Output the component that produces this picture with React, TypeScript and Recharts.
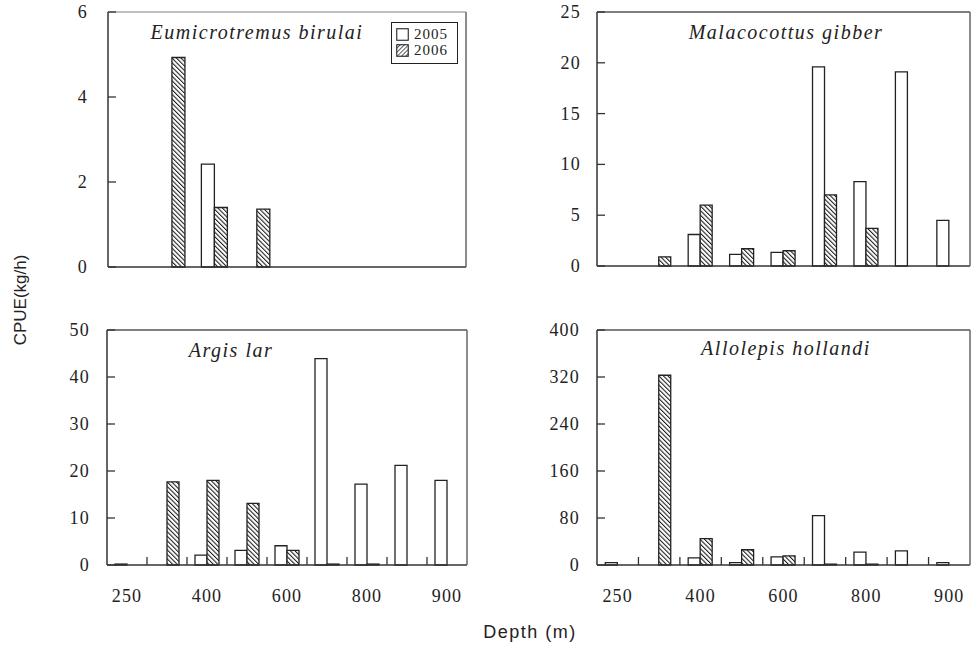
import React from "react";
import { BarChart, Bar, XAxis, YAxis, Legend } from "recharts";

const depths = ["250", "300", "400", "500", "600", "700", "800", "850", "900"];

const birulai2005 = [null, null, 2.42, null, null, null, null, null, null];
const birulai2006 = [null, 4.93, 1.4, 1.36, null, null, null, null, null];
const birulaiTicks = [0, 2, 4, 6];

const gibber2005 = [null, null, 3.1, 1.15, 1.35, 19.6, 8.3, 19.1, 4.5];
const gibber2006 = [null, 0.9, 6.0, 1.7, 1.5, 7.0, 3.7, null, null];
const gibberTicks = [0, 5, 10, 15, 20, 25];

const argis2005 = [0.2, null, 2.1, 3.1, 4.1, 43.9, 17.2, 21.2, 18.0];
const argis2006 = [null, 17.7, 18.0, 13.1, 3.1, 0.2, 0.2, null, null];
const argisTicks = [0, 10, 20, 30, 40, 50];

const hollandi2005 = [4, null, 12, 4, 14, 84, 22, 24, 4];
const hollandi2006 = [null, 323, 45, 26, 15.5, 1.5, 1.5, null, null];
const hollandiTicks = [0, 80, 160, 240, 320, 400];

const serif = "'Liberation Serif', 'Times New Roman', serif";
const sans = "'Liberation Sans', Arial, sans-serif";
const ink = "#222";

type Margin = { top: number; right: number; bottom: number; left: number };

type PanelProps = {
  id: string;
  left: number;
  top: number;
  width: number;
  height: number;
  plot: Margin; // where the plot box should end up inside the chart
  s2005: (number | null)[];
  s2006: (number | null)[];
  ticks: number[];
  labelGap: number;
  showX: boolean;
  padRight?: number;
  legend?: boolean;
  topBorder?: string;
};

const YTick = (props: any) => {
  const { x, y, payload, gap } = props;
  return (
    <g>
      <line x1={x} x2={x + 8} y1={y} y2={y} stroke="#333" strokeWidth={1.3} />
      <text
        x={x - gap}
        y={y}
        dy={6}
        textAnchor="end"
        fontFamily={serif}
        fontSize={18}
        letterSpacing={1.2}
        fill={ink}
      >
        {payload.value}
      </text>
    </g>
  );
};

const XTick = (props: any) => {
  const { x, y, payload, index, bw, showX } = props;
  if (!showX) return null;
  return (
    <g>
      {index < depths.length - 1 && (
        <line x1={x + bw / 2} x2={x + bw / 2} y1={y} y2={y - 8} stroke="#333" strokeWidth={1.3} />
      )}
      {index % 2 === 0 && (
        <text
          x={x}
          y={y + 37}
          textAnchor="middle"
          fontFamily={serif}
          fontSize={18}
          letterSpacing={1.2}
          fill={ink}
        >
          {payload.value}
        </text>
      )}
    </g>
  );
};

const LegendBox = (props: any) => (
  <div
    style={{
      width: 67,
      height: 42,
      boxSizing: "border-box",
      border: `1.5px solid ${ink}`,
      background: "#fff",
      padding: "3px 4px",
      fontFamily: serif,
      fontSize: 15,
      lineHeight: "16px",
      color: ink,
    }}
  >
    {(props.payload || []).map((p: any) => (
      <div key={p.value} style={{ display: "flex", alignItems: "center" }}>
        <svg width={13} height={13} style={{ marginRight: 5 }}>
          <defs>
            <pattern
              id="legendHatch"
              patternUnits="userSpaceOnUse"
              width={3}
              height={3}
              patternTransform="rotate(45)"
            >
              <rect width={3} height={3} fill="#fff" />
              <line x1={0} y1={0} x2={0} y2={3} stroke="#333" strokeWidth={1.6} />
            </pattern>
          </defs>
          <rect
            x={0.75}
            y={0.75}
            width={11.5}
            height={11.5}
            fill={p.value === "2006" ? "url(#legendHatch)" : "#fff"}
            stroke={ink}
            strokeWidth={1.1}
          />
        </svg>
        <span style={{ letterSpacing: 1 }}>{p.value}</span>
      </div>
    ))}
  </div>
);

const AX = 1; // thickness reserved for each axis

const Panel = ({
  id,
  left,
  top,
  width,
  height,
  plot,
  s2005,
  s2006,
  ticks,
  labelGap,
  showX,
  padRight = 0,
  legend,
  topBorder = "#555",
}: PanelProps) => {
  const data = depths.map((d, i) => ({ depth: d, y2005: s2005[i], y2006: s2006[i] }));
  const bw = (width - plot.left - plot.right + padRight) / depths.length;
  const hatch = `hatch-${id}`;
  const margin = {
    top: plot.top - AX,
    right: plot.right - AX,
    bottom: plot.bottom - AX,
    left: plot.left - AX,
  };
  return (
    <div style={{ position: "absolute", left, top }}>
      <BarChart
        width={width}
        height={height}
        data={data}
        margin={margin}
        barGap={0}
        barCategoryGap="20%"
      >
        <defs>
          <pattern
            id={hatch}
            patternUnits="userSpaceOnUse"
            width={3.2}
            height={3.2}
            patternTransform="rotate(-45)"
          >
            <rect width={3.2} height={3.2} fill="#fff" />
            <line x1={0} y1={0} x2={0} y2={3.2} stroke="#1a1a1a" strokeWidth={2.1} />
          </pattern>
        </defs>
        <XAxis
          dataKey="depth"
          height={AX}
          interval={0}
          tickSize={0}
          tickMargin={0}
          tickLine={false}
          axisLine={{ stroke: "#333", strokeWidth: 1.5 }}
          padding={{ left: 0, right: -padRight }}
          tick={<XTick bw={bw} showX={showX} />}
        />
        <XAxis
          xAxisId="top"
          dataKey="depth"
          orientation="top"
          height={AX}
          tick={false}
          tickLine={false}
          axisLine={{ stroke: topBorder, strokeWidth: 1.5 }}
        />
        <YAxis
          width={AX}
          type="number"
          domain={[ticks[0], ticks[ticks.length - 1]]}
          ticks={ticks}
          interval={0}
          tickSize={0}
          tickMargin={0}
          tickLine={false}
          axisLine={{ stroke: "#333", strokeWidth: 1.5 }}
          tick={<YTick gap={labelGap} />}
        />
        <YAxis
          yAxisId="right"
          orientation="right"
          width={AX}
          tick={false}
          tickLine={false}
          axisLine={{ stroke: "#666", strokeWidth: 1.5 }}
        />
        {legend && (
          <Legend
            layout="vertical"
            align="center"
            verticalAlign="middle"
            wrapperStyle={{ left: 391, top: 22, width: 67, height: 42 }}
            content={<LegendBox />}
          />
        )}
        <Bar
          dataKey="y2005"
          name="2005"
          fill="#fff"
          stroke={ink}
          strokeWidth={1.3}
          isAnimationActive={false}
        />
        <Bar
          dataKey="y2006"
          name="2006"
          fill={`url(#${hatch})`}
          stroke={ink}
          strokeWidth={1.3}
          isAnimationActive={false}
        />
      </BarChart>
    </div>
  );
};

const titleStyle = {
  fontFamily: serif,
  fontSize: 20,
  fontStyle: "italic" as const,
  letterSpacing: 1.5,
  fill: ink,
};

export default function App() {
  return (
    <div
      style={{
        position: "absolute",
        left: 0,
        top: 0,
        width: 971,
        height: 650,
        background: "#fff",
        overflow: "hidden",
      }}
    >
      <Panel
        id="tl"
        left={0}
        top={0}
        width={480}
        height={290}
        plot={{ top: 12, right: 14, bottom: 23, left: 108 }}
        s2005={birulai2005}
        s2006={birulai2006}
        ticks={birulaiTicks}
        labelGap={20}
        showX={false}
        padRight={24}
        legend
        topBorder="#aaa"
      />
      <Panel
        id="tr"
        left={480}
        top={0}
        width={491}
        height={290}
        plot={{ top: 12, right: 1, bottom: 24, left: 117 }}
        s2005={gibber2005}
        s2006={gibber2006}
        ticks={gibberTicks}
        labelGap={16}
        showX={false}
      />
      <Panel
        id="bl"
        left={0}
        top={320}
        width={480}
        height={330}
        plot={{ top: 10, right: 13, bottom: 85, left: 107 }}
        s2005={argis2005}
        s2006={argis2006}
        ticks={argisTicks}
        labelGap={17}
        showX
      />
      <Panel
        id="br"
        left={480}
        top={320}
        width={491}
        height={330}
        plot={{ top: 10, right: 1, bottom: 85, left: 117 }}
        s2005={hollandi2005}
        s2006={hollandi2006}
        ticks={hollandiTicks}
        labelGap={17}
        showX
      />
      <svg
        width={971}
        height={650}
        style={{ position: "absolute", left: 0, top: 0, pointerEvents: "none" }}
      >
        <text x={257} y={39} textAnchor="middle" {...titleStyle}>
          Eumicrotremus birulai
        </text>
        <text x={786} y={39} textAnchor="middle" {...titleStyle}>
          Malacocottus gibber
        </text>
        <text x={231} y={357} textAnchor="middle" {...titleStyle}>
          Argis lar
        </text>
        <text x={786} y={355} textAnchor="middle" {...titleStyle}>
          Allolepis hollandi
        </text>
        <text
          x={26}
          y={300}
          textAnchor="middle"
          transform="rotate(-90 26 300)"
          fontFamily={sans}
          fontSize={17}
          fill={ink}
        >
          CPUE(kg/h)
        </text>
        <text
          x={530}
          y={638}
          textAnchor="middle"
          fontFamily={sans}
          fontSize={18}
          letterSpacing={1.5}
          fill={ink}
        >
          Depth (m)
        </text>
      </svg>
    </div>
  );
}
